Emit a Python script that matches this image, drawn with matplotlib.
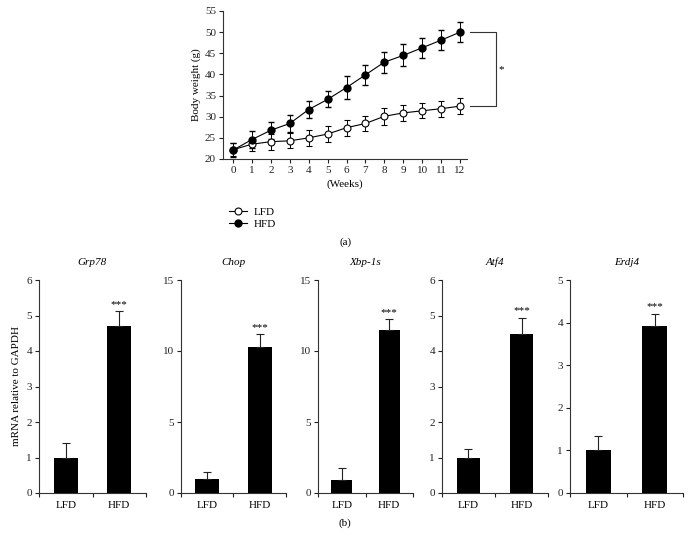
import matplotlib.pyplot as plt
from matplotlib.lines import Line2D
import numpy as np

plt.rcParams['font.family'] = ['Liberation Serif', 'DejaVu Serif']
plt.rcParams['font.size'] = 8

# body weight data (weeks 0-12)
weeks = list(range(13))
lfd_weight = [22.2, 23.5, 24.1, 24.3, 25.0, 25.9, 27.4, 28.4, 30.1, 30.9, 31.4, 31.9, 32.5]
lfd_err = [1.5, 1.5, 1.9, 1.8, 1.9, 1.9, 1.9, 1.8, 2.0, 1.9, 1.8, 1.9, 1.9]
hfd_weight = [22.1, 24.6, 26.8, 28.4, 31.7, 34.1, 36.9, 39.9, 42.9, 44.5, 46.3, 48.1, 50.0]
hfd_err = [1.6, 2.0, 2.0, 2.0, 2.0, 1.9, 2.7, 2.4, 2.5, 2.6, 2.4, 2.3, 2.4]

# mRNA panels
genes = ['Grp78', 'Chop', 'Xbp-1s', 'Atf4', 'Erdj4']
groups = ['LFD', 'HFD']
lfd_mrna = [1.0, 1.0, 0.94, 1.0, 1.0]
lfd_mrna_err = [0.4, 0.47, 0.82, 0.24, 0.33]
hfd_mrna = [4.7, 10.28, 11.48, 4.48, 3.91]
hfd_mrna_err = [0.42, 0.89, 0.75, 0.45, 0.29]
ymaxes = [6, 15, 15, 6, 5]
ysteps = [1, 5, 5, 1, 1]

W, H = 691, 548
fig = plt.figure(figsize=(W / 100, H / 100), dpi=100)

def px_axes(left, top, right, bottom):
    return fig.add_axes([left / W, 1 - bottom / H, (right - left) / W, (bottom - top) / H])

axcol = '#333333'

def style(ax):
    for s in ['top', 'right']:
        ax.spines[s].set_visible(False)
    for s in ['left', 'bottom']:
        ax.spines[s].set_color(axcol)
        ax.spines[s].set_linewidth(0.8)
    ax.tick_params(colors='#222222', width=0.8, length=3, labelsize=8, pad=2)

# (a) body weight
ax = px_axes(223, 11, 467, 159)
style(ax)
ax.errorbar(weeks, lfd_weight, yerr=lfd_err, color='black', lw=0.8, marker='o',
            mfc='white', mec='black', ms=5, mew=0.8, capsize=2, elinewidth=0.7)
ax.errorbar(weeks, hfd_weight, yerr=hfd_err, color='black', lw=0.8, marker='o',
            mfc='black', mec='black', ms=5, capsize=2, elinewidth=0.7)
ax.set_xlim(-0.53, 12.37)
ax.set_ylim(20, 55)
ax.set_xticks(weeks)
ax.set_yticks(range(20, 56, 5))
ax.set_xlabel('(Weeks)', fontsize=8, labelpad=3)
ax.set_ylabel('Body weight (g)', fontsize=8, labelpad=3)
ax.plot([12.53, 13.9, 13.9, 12.53], [50, 50, 32.5, 32.5], color=axcol, lw=0.8, clip_on=False)
ax.text(14.2, 41.2, '*', fontsize=8, ha='center', va='center')
handles = [Line2D([], [], color='black', lw=0.8, marker='o', mfc='white', mec='black', ms=5, mew=0.8),
           Line2D([], [], color='black', lw=0.8, marker='o', mfc='black', mec='black', ms=5)]
fig.legend(handles, groups, loc='upper left', bbox_to_anchor=(225 / W, 1 - 203 / H),
           frameon=False, fontsize=8, handlelength=1.6, handletextpad=0.6,
           labelspacing=0.15, borderaxespad=0)
fig.text(346 / W, 1 - 242 / H, '(a)', ha='center', va='center', fontsize=8)

# (b) mRNA bars
panel_x = [(39, 146), (181, 286), (318, 413), (442, 548), (570, 683)]
for i, g in enumerate(genes):
    l, r = panel_x[i]
    bx = px_axes(l, 280, r, 493)
    style(bx)
    vals = [lfd_mrna[i], hfd_mrna[i]]
    errs = [lfd_mrna_err[i], hfd_mrna_err[i]]
    bx.bar([0, 1], vals, width=0.45, color='black')
    bx.errorbar([0, 1], vals, yerr=[[0, 0], errs], fmt='none', ecolor='#222222',
                elinewidth=0.8, capsize=3, capthick=0.8)
    bx.set_xlim(-0.5, 1.5)
    bx.set_ylim(0, ymaxes[i])
    bx.set_yticks(np.arange(0, ymaxes[i] + 0.01, ysteps[i]))
    bx.set_xticks([-0.5, 0.5, 1.5])
    bx.set_xticklabels([])
    bx.set_xticks([0, 1], minor=True)
    bx.set_xticklabels(groups, minor=True)
    bx.tick_params(axis='x', which='minor', length=0, pad=6, labelsize=8)
    bx.text(1, vals[1] + errs[1] + ymaxes[i] * 0.012, '***', ha='center', va='bottom', fontsize=8)
    bx.set_title(g, style='italic', fontsize=8, pad=11)
    if i == 0:
        bx.set_ylabel('mRNA relative to GAPDH', fontsize=8, labelpad=4)

fig.text(345 / W, 1 - 523 / H, '(b)', ha='center', va='center', fontsize=8)

fig.savefig('out.png', dpi=100)
